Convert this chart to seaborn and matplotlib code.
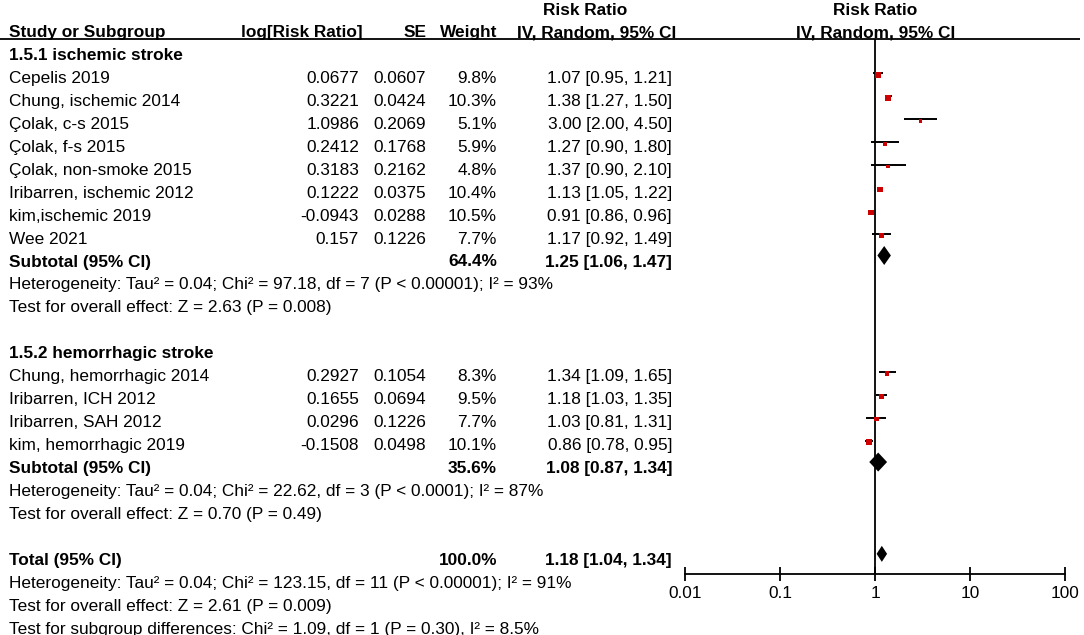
import numpy as np
import pandas as pd
import matplotlib
matplotlib.use("Agg")
import matplotlib.pyplot as plt
import seaborn as sns

# ---- data ----
isch_names = ["Cepelis 2019", "Chung, ischemic 2014", "Çolak, c-s 2015", "Çolak, f-s 2015",
              "Çolak, non-smoke 2015", "Iribarren, ischemic 2012", "kim,ischemic 2019", "Wee 2021"]
isch_logrr = ["0.0677", "0.3221", "1.0986", "0.2412", "0.3183", "0.1222", "-0.0943", "0.157"]
isch_se = ["0.0607", "0.0424", "0.2069", "0.1768", "0.2162", "0.0375", "0.0288", "0.1226"]
isch_weight = [9.8, 10.3, 5.1, 5.9, 4.8, 10.4, 10.5, 7.7]
isch_rr = [1.07, 1.38, 3.00, 1.27, 1.37, 1.13, 0.91, 1.17]
isch_lo = [0.95, 1.27, 2.00, 0.90, 0.90, 1.05, 0.86, 0.92]
isch_hi = [1.21, 1.50, 4.50, 1.80, 2.10, 1.22, 0.96, 1.49]

hem_names = ["Chung, hemorrhagic 2014", "Iribarren, ICH 2012", "Iribarren, SAH 2012", "kim, hemorrhagic 2019"]
hem_logrr = ["0.2927", "0.1655", "0.0296", "-0.1508"]
hem_se = ["0.1054", "0.0694", "0.1226", "0.0498"]
hem_weight = [8.3, 9.5, 7.7, 10.1]
hem_rr = [1.34, 1.18, 1.03, 0.86]
hem_lo = [1.09, 1.03, 0.81, 0.78]
hem_hi = [1.65, 1.35, 1.31, 0.95]

# pooled: weight, rr, lo, hi
sub_isch = (64.4, 1.25, 1.06, 1.47)
sub_hem = (35.6, 1.08, 0.87, 1.34)
total = (100.0, 1.18, 1.04, 1.34)

het_isch = "Heterogeneity: Tau² = 0.04; Chi² = 97.18, df = 7 (P < 0.00001); I² = 93%"
eff_isch = "Test for overall effect: Z = 2.63 (P = 0.008)"
het_hem = "Heterogeneity: Tau² = 0.04; Chi² = 22.62, df = 3 (P < 0.0001); I² = 87%"
eff_hem = "Test for overall effect: Z = 0.70 (P = 0.49)"
het_tot = "Heterogeneity: Tau² = 0.04; Chi² = 123.15, df = 11 (P < 0.00001); I² = 91%"
eff_tot = "Test for overall effect: Z = 2.61 (P = 0.009)"
sub_diff = "Test for subgroup differences: Chi² = 1.09, df = 1 (P = 0.30), I² = 8.5%"

# ---- layout ----
sns.set_theme(style="white")
plt.rcParams["font.family"] = ["Liberation Sans", "DejaVu Sans"]
plt.rcParams["text.color"] = "black"
plt.rcParams["xtick.color"] = "black"
plt.rcParams["xtick.labelcolor"] = "black"
FS = 12.4
RED = "#cc0000"

W, H = 1084, 635
fig = plt.figure(figsize=(W / 100, H / 100), dpi=100)
tax = fig.add_axes([0, 0, 1, 1])
tax.set_xlim(0, W)
tax.set_ylim(H, 0)
tax.axis("off")


def ypix(k):
    return 32 + 22.95 * k


X_NAME, X_LOG, X_SE, X_W, X_CI = 9, 359, 426, 497, 672
X_FOREST = 875


def put(x, k, s, ha="left", bold=False, y=None):
    yy = ypix(k) if y is None else y
    tax.text(x, yy + 5, s, ha=ha, va="baseline", fontsize=FS,
             fontweight="bold" if bold else "normal", color="black")


def ci_text(rr, lo, hi):
    return f"{rr:.2f} [{lo:.2f}, {hi:.2f}]"


# header
put(585, 0, "Risk Ratio", ha="center", bold=True, y=10)
put(X_FOREST, 0, "Risk Ratio", ha="center", bold=True, y=10)
put(X_NAME, 0, "Study or Subgroup", bold=True)
put(X_LOG + 4, 0, "log[Risk Ratio]", ha="right", bold=True)
put(X_SE + 1, 0, "SE", ha="right", bold=True)
put(X_W, 0, "Weight", ha="right", bold=True)
put(597, 0, "IV, Random, 95% CI", ha="center", bold=True)
put(X_FOREST + 1, 0, "IV, Random, 95% CI", ha="center", bold=True)
tax.hlines(39, 0, 1080, color="black", lw=1.3)

rows = []  # (k, rr, lo, hi, weight)


def study_block(k0, title, names, logrr, se, weight, rr, lo, hi, sub, het, eff):
    put(X_NAME, k0, title, bold=True)
    for i, nm in enumerate(names):
        k = k0 + 1 + i
        put(X_NAME, k, nm)
        put(X_LOG, k, logrr[i], ha="right")
        put(X_SE, k, se[i], ha="right")
        put(X_W, k, f"{weight[i]}%", ha="right")
        put(X_CI, k, ci_text(rr[i], lo[i], hi[i]), ha="right")
        rows.append((k, rr[i], lo[i], hi[i], weight[i]))
    ks = k0 + 1 + len(names)
    put(X_NAME, ks, "Subtotal (95% CI)", bold=True)
    put(X_W, ks, f"{sub[0]}%", ha="right", bold=True)
    put(X_CI, ks, ci_text(*sub[1:]), ha="right", bold=True)
    put(X_NAME, ks + 1, het)
    put(X_NAME, ks + 2, eff)
    return ks


ks1 = study_block(1, "1.5.1 ischemic stroke", isch_names, isch_logrr, isch_se, isch_weight,
                  isch_rr, isch_lo, isch_hi, sub_isch, het_isch, eff_isch)
ks2 = study_block(14, "1.5.2 hemorrhagic stroke", hem_names, hem_logrr, hem_se, hem_weight,
                  hem_rr, hem_lo, hem_hi, sub_hem, het_hem, eff_hem)
kt = 23
put(X_NAME, kt, "Total (95% CI)", bold=True)
put(X_W, kt, f"{total[0]}%", ha="right", bold=True)
put(X_CI, kt, ci_text(*total[1:]), ha="right", bold=True)
put(X_NAME, kt + 1, het_tot)
put(X_NAME, kt + 2, eff_tot)
put(X_NAME, kt + 3, sub_diff)

# ---- forest panel ----
fax = fig.add_axes([685 / W, (H - 574) / H, 380 / W, (574 - 39) / H])
fax.set_xscale("log")
fax.set_xlim(0.01, 100)
fax.set_ylim(574, 39)
fax.patch.set_alpha(0)

df = pd.DataFrame(rows, columns=["k", "rr", "lo", "hi", "weight"])
df["y"] = ypix(df["k"]) - 3
fax.hlines(df["y"] - 1.5, df["lo"], df["hi"], color="black", lw=1.4, zorder=2)
side_pt = (1.5 + 0.4 * df["weight"]) * 0.72
sns.scatterplot(data=df, x="rr", y="y", marker="s", s=side_pt ** 2, color=RED,
                edgecolor=RED, linewidth=0, ax=fax, zorder=3, legend=False)

for k, (w, rr, lo, hi), hh in [(ks1, sub_isch, 9.5), (ks2, sub_hem, 9.5), (kt, total, 8)]:
    yc = ypix(k) - 6
    fax.fill([lo, rr, hi, rr], [yc, yc - hh, yc, yc + hh], color="black", zorder=3, lw=0)

fax.axvline(1, color="black", lw=1.3, zorder=1)
for s in ["top", "right", "left"]:
    fax.spines[s].set_visible(False)
fax.spines["bottom"].set_color("black")
fax.spines["bottom"].set_linewidth(1.3)
fax.set_yticks([])
fax.set_xticks([0.01, 0.1, 1, 10, 100])
fax.set_xticklabels(["0.01", "0.1", "1", "10", "100"])
fax.minorticks_off()
fax.tick_params(axis="x", direction="inout", length=10, width=1.3, color="black",
                labelsize=FS, labelcolor="black", pad=4, bottom=True)
fax.set_xlabel("")
fax.set_ylabel("")

fig.savefig("out.png", dpi=100, facecolor="white")
